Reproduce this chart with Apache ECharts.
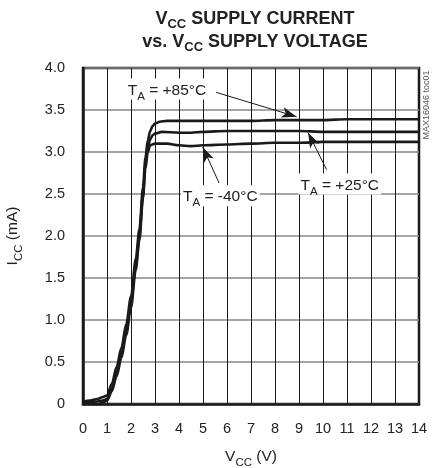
<!DOCTYPE html>
<html><head><meta charset="utf-8">
<script src="https://cdn.jsdelivr.net/npm/echarts@6/dist/echarts.min.js"></script>
<style>html,body{margin:0;padding:0;background:#fff}#c{width:432px;height:468px}</style>
</head><body><div id="c"></div>
<script>
var xTicks = [0,1,2,3,4,5,6,7,8,9,10,11,12,13,14];
var yTicks = ['0','0.5','1.0','1.5','2.0','2.5','3.0','3.5','4.0'];

var vcc85 = [0,0.3,0.6,0.8,1.0,1.2,1.4,1.6,1.8,2.0,2.2,2.35,2.5,2.6,2.7,2.8,2.9,3.0,3.2,3.5,4,5,6,7,8,9,10,11,12,13,14];
var icc85 = [0.03,0.04,0.06,0.08,0.1,0.24,0.44,0.67,0.95,1.28,1.73,2.08,2.58,2.93,3.14,3.25,3.31,3.34,3.36,3.37,3.37,3.37,3.37,3.37,3.38,3.38,3.38,3.39,3.39,3.39,3.39];

var vcc25 = [0,0.3,0.6,0.8,1.0,1.2,1.4,1.6,1.8,2.0,2.2,2.35,2.5,2.6,2.7,2.8,2.9,3.0,3.3,4,4.5,5,6,7,8,9,10,11,12,13,14];
var icc25 = [0.01,0.02,0.03,0.04,0.06,0.18,0.38,0.6,0.88,1.2,1.65,2.0,2.5,2.85,3.05,3.15,3.2,3.22,3.24,3.23,3.23,3.24,3.25,3.25,3.25,3.25,3.24,3.24,3.24,3.24,3.24];

var vcc40 = [0,0.3,0.6,0.8,1.0,1.2,1.4,1.6,1.8,2.0,2.2,2.35,2.5,2.6,2.7,2.8,3.0,3.5,4,4.5,5,6,7,8,9,10,11,12,13,14];
var icc40 = [0.0,0.0,-0.01,0.02,0.04,0.15,0.33,0.55,0.82,1.15,1.6,1.95,2.45,2.8,3.0,3.08,3.1,3.1,3.08,3.07,3.08,3.09,3.1,3.11,3.11,3.12,3.12,3.12,3.12,3.12];

function pairs(xs, ys){ return xs.map(function(x,i){return [x, ys[i]];}); }

var F = '"Liberation Sans", Arial, Helvetica, sans-serif';
var subRich = {
  n: {fontSize:15.5, color:'#222', fontFamily:F, lineHeight:19, verticalAlign:'bottom'},
  s: {fontSize:11.5, color:'#222', fontFamily:F, lineHeight:15, verticalAlign:'bottom', padding:[0,0,-4,0]}
};
var lblRich = {
  n: {fontSize:15.5, color:'#222', fontFamily:F, lineHeight:19, verticalAlign:'bottom'},
  s: {fontSize:11.5, color:'#222', fontFamily:F, lineHeight:15, verticalAlign:'bottom', padding:[0,0,-4,0]}
};

function lbl(txt){
  return {
    show:true, position:'inside', formatter: txt, backgroundColor:'#fff',
    padding:[1,2,1,2], color:'#222', fontFamily:F, fontSize:15, rich: lblRich
  };
}

var chart = echarts.init(document.getElementById('c'), null, {renderer:'canvas'});
var lineStyle = {color:'#1a1a1a', width:2.6};

chart.setOption({
  animation:false,
  backgroundColor:'#fff',
  title:{
    left:250, top:0, textAlign:'center',
    text:'{b|V}{s|CC}{b| SUPPLY CURRENT}\n{b|vs. V}{s|CC}{b| SUPPLY VOLTAGE}',
    textStyle:{
      rich:{
        b:{fontSize:18, fontWeight:'bold', color:'#222', fontFamily:F, lineHeight:23, verticalAlign:'bottom'},
        s:{fontSize:13, fontWeight:'bold', color:'#222', fontFamily:F, lineHeight:18, verticalAlign:'bottom', padding:[0,0,-3,0]}
      }
    }
  },
  grid:{left:83, right:13, top:68, bottom:64, outerBoundsMode:'none', containLabel:false,
    show:true, borderColor:'#1a1a1a', borderWidth:2.5, backgroundColor:'#fff'},
  xAxis:{
    type:'value', min:0, max:14, interval:1,
    name:'{n|V}{s|CC}{n| (V)}', nameLocation:'middle', nameGap:42,
    nameTextStyle:{rich:subRich},
    axisLine:{show:true, lineStyle:{color:'#1a1a1a', width:2.5}},
    axisTick:{show:false},
    axisLabel:{margin:17, fontSize:14.5, color:'#222', fontFamily:F,
      formatter:function(v){return xTicks.indexOf(v)>=0 ? String(v) : '';}},
    splitLine:{show:true, lineStyle:{color:'#1a1a1a', width:1}}
  },
  yAxis:{
    type:'value', min:0, max:4, interval:0.5,
    name:'{n|I}{s|CC}{n| (mA)}', nameLocation:'middle', nameGap:62, nameRotate:90,
    nameTextStyle:{rich:subRich},
    axisLine:{show:true, lineStyle:{color:'#1a1a1a', width:2.5}},
    axisTick:{show:false},
    axisLabel:{margin:18, fontSize:14.5, color:'#222', fontFamily:F,
      formatter:function(v){return yTicks[Math.round(v*2)];}},
    splitLine:{show:true, lineStyle:{color:'#888', width:1.5}}
  },
  series:[
    {type:'line', name:'+85', data:pairs(vcc85, icc85), showSymbol:false, smooth:0.3, smoothMonotone:'x', lineStyle:lineStyle, z:3,
     markPoint:{silent:true, symbol:'circle', symbolSize:1, itemStyle:{color:'rgba(0,0,0,0)'},
       data:[
        {coord:[3.5,3.75], label:lbl('{n|T}{s|A}{n| = +85°C}')},
        {coord:[5.72,2.48], label:lbl('{n|T}{s|A}{n| = -40°C}')},
        {coord:[10.7,2.62], label:lbl('{n|T}{s|A}{n| = +25°C}')}
       ]},
     markLine:{silent:true, symbol:['none','arrow'], symbolSize:[8,15], label:{show:false},
       lineStyle:{color:'#1a1a1a', width:1, type:'solid'},
       data:[
        [{coord:[5.55,3.71]},{coord:[8.9,3.42]}],
        [{coord:[5.67,2.63]},{coord:[4.99,3.06]}],
        [{coord:[10.15,2.79]},{coord:[9.38,3.23]}]
       ]}
    },
    {type:'line', name:'+25', data:pairs(vcc25, icc25), showSymbol:false, smooth:0.3, smoothMonotone:'x', lineStyle:lineStyle, z:3},
    {type:'line', name:'-40', data:pairs(vcc40, icc40), showSymbol:false, smooth:0.3, smoothMonotone:'x', lineStyle:lineStyle, z:3}
  ],
  graphic:[
    {type:'text', x:427, y:105, rotation:Math.PI/2, style:{text:'MAX16046 toc01', fontSize:9, fill:'#555', fontFamily:F, align:'center', verticalAlign:'middle'}}
  ]
});
</script></body></html>
